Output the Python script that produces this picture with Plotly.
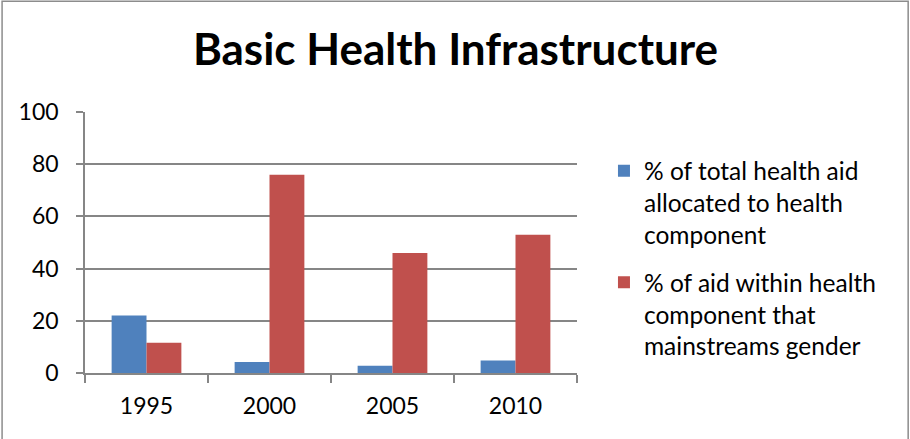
import plotly.graph_objects as go

# Chart data
years = ["1995", "2000", "2005", "2010"]
share_of_total_aid = [22, 4.2, 2.8, 4.8]
share_mainstreaming_gender = [11.6, 76, 46, 53]
series_names = [
    "% of total health aid<br>allocated to health<br>component",
    "% of aid within health<br>component that<br>mainstreams gender",
]
y_ticks = [0, 20, 40, 60, 80, 100]

BLUE = "#4F81BD"
RED = "#C0504D"
GRID = "#868686"
FONT = "Lato"

W, H = 910, 439
ml, mr, mt, mb = 84.5, 333, 111.7, 65.7
pw = W - ml - mr
ph = H - mt - mb

fig = go.Figure()
fig.add_trace(go.Bar(x=years, y=share_of_total_aid, name=series_names[0],
                     legendgroup="total", marker=dict(color=BLUE, line=dict(width=0))))
fig.add_trace(go.Bar(x=years, y=share_mainstreaming_gender, name=series_names[1],
                     legendgroup="gender", marker=dict(color=RED, line=dict(width=0))))

# Outer chart border
fig.add_shape(type="rect", xref="paper", yref="paper",
              x0=(1.5 - ml) / pw, x1=(908.5 - ml) / pw,
              y0=-1.0, y1=(H - mb - 0.8) / ph,
              line=dict(color="#8c8c8c", width=1.5), fillcolor="rgba(0,0,0,0)",
              layer="above")

fig.update_layout(
    width=W, height=H,
    margin=dict(l=ml, r=mr, t=mt, b=mb, pad=0),
    paper_bgcolor="white", plot_bgcolor="white",
    font=dict(family=FONT, color="#000000", size=22),
    title=dict(text="<b>Basic Health Infrastructure</b>",
               font=dict(family=FONT, size=44, color="#000000"),
               x=455.5 / W, xanchor="center", xref="container",
               y=1 - 50 / H, yanchor="middle", yref="container"),
    barmode="group", bargap=0.433, bargroupgap=0,
    showlegend=True,
    legend=dict(x=(604 - ml) / pw, xanchor="left",
                y=1 - (148 - mt) / ph, yanchor="top",
                font=dict(family=FONT, size=24.5, color="#000000"),
                valign="top", tracegroupgap=13, itemwidth=30,
                bgcolor="rgba(0,0,0,0)"),
    xaxis=dict(type="category", showgrid=False, showline=True,
               linecolor=GRID, linewidth=1.5,
               ticks="outside", tickson="boundaries", ticklen=8,
               tickcolor=GRID, tickwidth=1.5,
               tickfont=dict(family=FONT, size=23), ticklabelstandoff=12),
    yaxis=dict(range=[0, 100], tickvals=y_ticks, showgrid=True,
               gridcolor=GRID, gridwidth=1.5, zeroline=False,
               showline=True, linecolor=GRID, linewidth=1.5,
               ticks="outside", ticklen=7, tickcolor=GRID, tickwidth=1.5,
               tickfont=dict(family=FONT, size=23), ticklabelstandoff=13),
)

fig.write_html("out.html")
